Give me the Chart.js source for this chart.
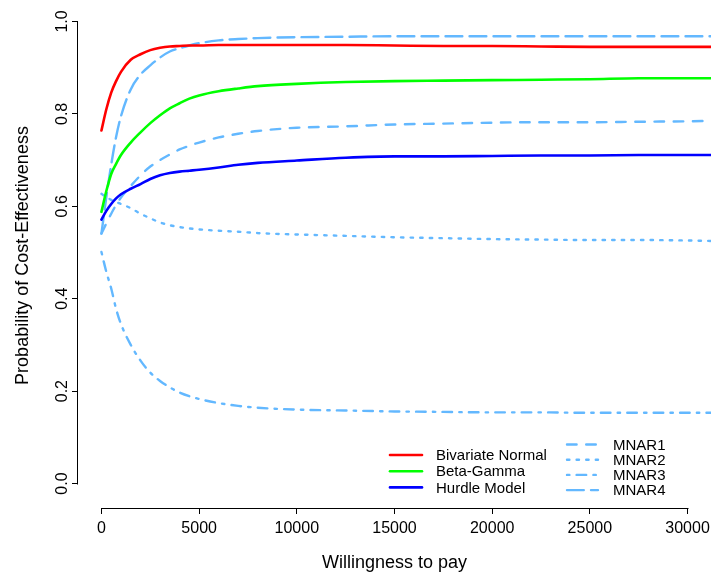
<!DOCTYPE html>
<html>
<head>
<meta charset="utf-8">
<script src="https://cdn.jsdelivr.net/npm/chart.js@4"></script>
<style>
  html, body { margin: 0; padding: 0; background: #fff; }
  #wrap { width: 728px; height: 575px; }
</style>
</head>
<body>
<div id="wrap"><canvas id="ceac" width="728" height="575"></canvas></div>
<script>
// willingness to pay grid
const wtp = [0, 250, 500, 750, 1000, 1500, 2000, 2500, 3000, 3500, 4000, 4500, 5000,
  6000, 7000, 8000, 10000, 12500, 15000, 17500, 20000, 22500, 25000, 27500, 30000, 31200];

const bivNormal = [.764, .810, .846, .871, .891, .917, .929, .938, .943, .946, .947, .948, .948,
  .949, .949, .949, .949, .949, .948, .947, .947, .946, .945, .945, .945, .945];
const betaGamma = [.588, .633, .670, .692, .711, .738, .760, .780, .797, .812, .823, .833, .840,
  .849, .855, .860, .865, .869, .871, .872, .873, .874, .875, .877, .877, .877];
const hurdle = [.571, .590, .605, .617, .626, .638, .648, .659, .667, .672, .675, .677, .679,
  .684, .690, .694, .699, .705, .708, .708, .709, .710, .710, .711, .711, .711];
const mnar1 = [.541, .563, .584, .603, .619, .644, .667, .686, .700, .712, .723, .731, .738,
  .749, .757, .763, .770, .773, .777, .779, .781, .782, .782, .783, .784, .785];
const mnar2 = [.627, .620, .614, .609, .605, .596, .584, .574, .565, .559, .555, .552, .550,
  .547, .545, .542, .539, .536, .533, .531, .529, .528, .527, .527, .526, .525];
const mnar3 = [.501, .458, .422, .378, .345, .300, .266, .240, .222, .208, .197, .189, .183,
  .174, .168, .164, .160, .158, .156, .155, .154, .154, .153, .153, .153, .153];
const mnar4 = [.541, .620, .690, .750, .795, .853, .885, .905, .922, .935, .942, .948, .953,
  .959, .962, .964, .966, .967, .968, .968, .968, .968, .968, .968, .968, .968];

const xTicks = [0, 5000, 10000, 15000, 20000, 25000, 30000];
const yTicks = [0, 0.2, 0.4, 0.6, 0.8, 1.0];

const FONT = "'Liberation Sans', Arial, sans-serif";
const LBLUE = "#63B8FF";
const U = 2.4; // R lty unit

const pts = arr => wtp.map((x, i) => ({ x, y: arr[i] }));
const series = (label, arr, color, dash, col) => ({
  label, data: pts(arr), borderColor: color, borderWidth: dash.length ? 2.4 : 2.6,
  borderDash: dash, borderCapStyle: "round", borderJoinStyle: "round",
  pointRadius: 0, fill: false, cubicInterpolationMode: "monotone", legendCol: col
});

const datasets = [
  series("Bivariate Normal", bivNormal, "#FF0000", [], 0),
  series("Beta-Gamma", betaGamma, "#00FF00", [], 0),
  series("Hurdle Model", hurdle, "#0000FF", [], 0),
  series("MNAR1", mnar1, LBLUE, [4*U, 4*U], 1),
  series("MNAR2", mnar2, LBLUE, [1*U, 3*U], 1),
  series("MNAR3", mnar3, LBLUE, [1*U, 3*U, 4*U, 3*U], 1),
  series("MNAR4", mnar4, LBLUE, [7*U, 3*U], 1)
];

/* R style axes: line only over the tick range, rotated y labels */
const rAxes = {
  id: "rAxes",
  afterDraw(chart) {
    const { ctx, chartArea, scales: { x, y } } = chart;
    ctx.save();
    ctx.strokeStyle = "#000";
    ctx.lineWidth = 1;
    const by = Math.round(chartArea.bottom) + 0.5;
    const lx = Math.round(chartArea.left) - 0.5;
    ctx.beginPath();
    ctx.moveTo(Math.round(x.getPixelForValue(xTicks[0])) + 0.5, by);
    ctx.lineTo(Math.round(x.getPixelForValue(xTicks[xTicks.length - 1])) + 0.5, by);
    ctx.moveTo(lx, Math.round(y.getPixelForValue(yTicks[0])) + 0.5);
    ctx.lineTo(lx, Math.round(y.getPixelForValue(yTicks[yTicks.length - 1])) + 0.5);
    ctx.stroke();

    ctx.fillStyle = "#000";
    ctx.font = "16px " + FONT;
    ctx.textAlign = "center";
    ctx.textBaseline = "alphabetic";
    yTicks.forEach(v => {
      ctx.save();
      ctx.translate(chartArea.left - 11, y.getPixelForValue(v));
      ctx.rotate(-Math.PI / 2);
      ctx.fillText(v.toFixed(1), 0, 0);
      ctx.restore();
    });
    ctx.restore();
  }
};

/* two column legend without box, like R legend(ncol=2) */
const rLegend = {
  id: "rLegend",
  afterDraw(chart) {
    const { ctx } = chart;
    const cols = [
      { x0: 390, x1: 422, tx: 436, y0: 455, dy: 16.2 },
      { x0: 567, x1: 598, tx: 613, y0: 444.5, dy: 15.2 }
    ];
    const rows = [0, 0];
    ctx.save();
    ctx.font = "15px " + FONT;
    ctx.textBaseline = "middle";
    ctx.textAlign = "left";
    chart.data.datasets.forEach(ds => {
      const c = cols[ds.legendCol];
      const yy = c.y0 + rows[ds.legendCol]++ * c.dy;
      ctx.strokeStyle = ds.borderColor;
      ctx.lineWidth = ds.borderWidth;
      ctx.lineCap = "round";
      ctx.setLineDash(ds.borderDash);
      ctx.beginPath();
      ctx.moveTo(c.x0, yy);
      ctx.lineTo(c.x1, yy);
      ctx.stroke();
      ctx.setLineDash([]);
      ctx.fillStyle = "#000";
      ctx.fillText(ds.label, c.tx, yy + 1);
    });
    ctx.restore();
  }
};

new Chart(document.getElementById("ceac"), {
  type: "line",
  data: { datasets },
  options: {
    responsive: false,
    animation: false,
    layout: { padding: { top: 3, right: 17, left: 0, bottom: 0 } },
    plugins: { legend: { display: false }, tooltip: { enabled: false } },
    scales: {
      x: {
        type: "linear", min: -1200, max: 31200,
        afterFit: s => { s.height = 67; },
        afterBuildTicks: s => { s.ticks = xTicks.map(value => ({ value })); },
        grid: { drawOnChartArea: false, drawTicks: true, tickLength: 6, color: "#000" },
        border: { display: false },
        ticks: { color: "#000", font: { family: FONT, size: 16 }, padding: 5, maxRotation: 0, autoSkip: false,
                 callback: v => String(v) },
        title: { display: true, text: "Willingness to pay", color: "#000",
                 font: { family: FONT, size: 18 }, padding: { top: 0, bottom: 1 } }
      },
      y: {
        type: "linear", min: -0.053, max: 1.04,
        afterFit: s => { s.width = 78; },
        afterBuildTicks: s => { s.ticks = yTicks.map(value => ({ value })); },
        grid: { drawOnChartArea: false, drawTicks: true, tickLength: 6, color: "#000" },
        border: { display: false },
        ticks: { display: false },
        title: { display: true, text: "Probability of Cost-Effectiveness", color: "#000",
                 font: { family: FONT, size: 18 }, padding: { top: 12, bottom: 0 } }
      }
    }
  },
  plugins: [rAxes, rLegend]
});
</script>
</body>
</html>
